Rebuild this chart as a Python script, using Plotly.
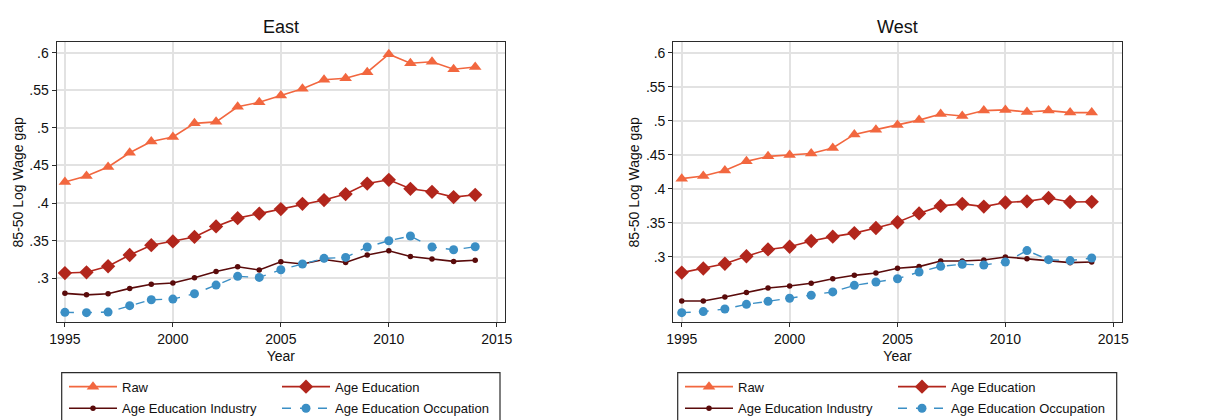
import plotly.graph_objects as go

years = list(range(1995, 2015))

east_raw = [0.428, 0.436, 0.448, 0.467, 0.482, 0.488, 0.506, 0.508, 0.528, 0.534,
            0.543, 0.552, 0.564, 0.566, 0.574, 0.598, 0.586, 0.588, 0.578, 0.581]
east_ageedu = [0.307, 0.308, 0.316, 0.331, 0.344, 0.349, 0.355, 0.369, 0.380, 0.386,
               0.392, 0.399, 0.404, 0.412, 0.426, 0.431, 0.419, 0.415, 0.408, 0.411]
east_ind = [0.280, 0.278, 0.2795, 0.2866, 0.292, 0.2937, 0.3008, 0.309, 0.3154, 0.311,
            0.322, 0.319, 0.325, 0.321, 0.331, 0.3367, 0.329, 0.3256, 0.3225, 0.324]
east_occ = [0.2547, 0.2543, 0.2551, 0.2636, 0.2715, 0.2724, 0.2795, 0.291, 0.3026, 0.3012,
            0.3114, 0.319, 0.3265, 0.3278, 0.3416, 0.350, 0.3562, 0.3416, 0.338, 0.342]

west_raw = [0.415, 0.419, 0.427, 0.4404, 0.4478, 0.4497, 0.452, 0.460, 0.480, 0.487,
            0.494, 0.501, 0.510, 0.507, 0.515, 0.516, 0.513, 0.515, 0.512, 0.512]
west_ageedu = [0.277, 0.283, 0.290, 0.301, 0.311, 0.315, 0.3234, 0.3298, 0.335, 0.3425,
               0.351, 0.364, 0.375, 0.378, 0.374, 0.380, 0.3817, 0.3866, 0.3807, 0.381]
west_ind = [0.2353, 0.2353, 0.2412, 0.2476, 0.2544, 0.2574, 0.2613, 0.268, 0.273, 0.2765,
            0.2833, 0.2858, 0.294, 0.294, 0.2955, 0.300, 0.2975, 0.295, 0.2916, 0.2926]
west_occ = [0.2182, 0.2197, 0.2236, 0.2304, 0.2348, 0.2393, 0.2437, 0.2486, 0.2583, 0.2632,
            0.268, 0.2779, 0.2862, 0.2892, 0.2882, 0.2926, 0.3093, 0.296, 0.2946, 0.2985]

series_names = ["Raw", "Age Education", "Age Education Industry", "Age Education Occupation"]
panel_titles = ["East", "West"]
y_tickvals = [0.3, 0.35, 0.4, 0.45, 0.5, 0.55, 0.6]
y_ticktext = [".3", ".35", ".4", ".45", ".5", ".55", ".6"]
x_tickvals = [1995, 2000, 2005, 2010, 2015]

W, H = 1215, 420
FONT = "Liberation Sans, Arial, sans-serif"

styles = [
    dict(color="#F2673F", symbol="triangle-up", size=11, dash="solid", lw=1.6),
    dict(color="#B2261C", symbol="diamond", size=11, dash="solid", lw=1.6),
    dict(color="#5A0B0B", symbol="circle", size=5.5, dash="solid", lw=1.6),
    dict(color="#3B8FC5", symbol="circle", size=9, dash="dash", lw=1.4),
]

fig = go.Figure()

panels = [
    (["x", "y"], [east_raw, east_ageedu, east_ind, east_occ], ["legend", "legend", "legend2", "legend2"]),
    (["x2", "y2"], [west_raw, west_ageedu, west_ind, west_occ], ["legend3", "legend3", "legend4", "legend4"]),
]

for (xa, ya), data, legs in panels:
    for i, (name, vals) in enumerate(zip(series_names, data)):
        s = styles[i]
        fig.add_trace(go.Scatter(
            x=years, y=vals, name=name, mode="lines+markers",
            xaxis=xa, yaxis=ya, legend=legs[i],
            line=dict(color=s["color"], width=s["lw"], dash=s["dash"]),
            marker=dict(color=s["color"], symbol=s["symbol"], size=s["size"]),
        ))


def px_x(p):
    return p / W


def px_y(p):
    return 1 - p / H


axis_common = dict(
    showgrid=True, gridcolor="#e2e2e2", gridwidth=1.5,
    showline=True, linecolor="#2b2b2b", linewidth=1.3, mirror=True,
    ticks="outside", ticklen=4, tickcolor="#2b2b2b", tickwidth=1,
    zeroline=False, tickfont=dict(size=14, color="#111", family=FONT),
)

fig.update_layout(
    width=W, height=H,
    margin=dict(l=0, r=0, t=0, b=0, autoexpand=False),
    paper_bgcolor="white", plot_bgcolor="white",
    font=dict(family=FONT, color="#111"),
    xaxis=dict(domain=[px_x(56.7), px_x(505)], range=[1994.62, 2015.38], anchor="y",
               tickvals=x_tickvals, automargin=False,
               title=dict(text="Year", font=dict(size=14), standoff=4), **axis_common),
    yaxis=dict(domain=[px_y(322.3), px_y(42.3)], range=[0.2415, 0.6138], anchor="x",
               tickvals=y_tickvals, ticktext=y_ticktext, automargin=False,
               title=dict(text="85-50 Log Wage gap", font=dict(size=14), standoff=2), **axis_common),
    xaxis2=dict(domain=[px_x(673.3), px_x(1121.7)], range=[1994.61, 2015.39], anchor="y2",
                tickvals=x_tickvals, automargin=False,
                title=dict(text="Year", font=dict(size=14), standoff=4), **axis_common),
    yaxis2=dict(domain=[px_y(322.3), px_y(42.3)], range=[0.204, 0.6153], anchor="x2",
                tickvals=y_tickvals, ticktext=y_ticktext, automargin=False,
                title=dict(text="85-50 Log Wage gap", font=dict(size=14), standoff=2), **axis_common),
    showlegend=True,
)

leg_common = dict(orientation="h", xanchor="left", yanchor="middle", bgcolor="rgba(0,0,0,0)",
                  borderwidth=0, font=dict(size=13, family=FONT, color="#111"),
                  itemwidth=48, entrywidth=150, tracegroupgap=0)
fig.update_layout(
    legend=dict(x=px_x(64), y=px_y(386.7), **leg_common),
    legend2=dict(x=px_x(64), y=px_y(408.3), **leg_common),
    legend3=dict(x=px_x(680), y=px_y(386.7), **leg_common),
    legend4=dict(x=px_x(680), y=px_y(408.3), **leg_common),
)

for x0, x1 in [(61.7, 500), (677.7, 1116.7)]:
    fig.add_shape(type="rect", xref="paper", yref="paper",
                  x0=px_x(x0), x1=px_x(x1), y0=px_y(430), y1=px_y(372.7),
                  line=dict(color="#2b2b2b", width=1.2), fillcolor="rgba(0,0,0,0)", layer="below")

for t, xc in zip(panel_titles, [281, 897]):
    fig.add_annotation(text=t, x=px_x(xc), y=px_y(27), xref="paper", yref="paper",
                       xanchor="center", yanchor="middle", showarrow=False,
                       font=dict(size=18, family=FONT, color="#111"))

fig.write_html("out.html", config={"displayModeBar": False},
               post_script="document.body.style.margin='0px';")
